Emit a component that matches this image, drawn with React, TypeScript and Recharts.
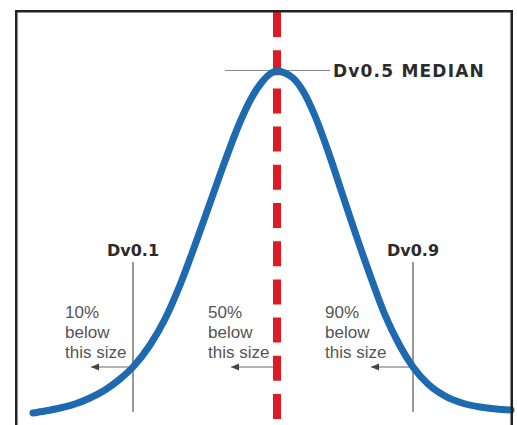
import { LineChart, Line, XAxis, YAxis, ReferenceLine } from "recharts"

// particle size (x) against frequency
const sizes = [33, 45, 60, 75, 90, 105, 120, 133, 150, 165, 180, 195, 210, 225, 240, 252, 262, 270, 277, 285, 293, 303, 315, 328, 342, 356, 370, 385, 400, 413, 428, 445, 462, 480, 496, 511]
const frequency = [12, 14, 17, 21, 27, 35, 46, 58, 80, 106, 140, 180, 222, 264, 303, 328, 343, 351, 354, 352, 347, 334, 309, 274, 232, 190, 150, 110, 79, 58, 41, 29, 22, 18, 16, 15]

const markerNames = ["Dv0.1", "Dv0.5 MEDIAN", "Dv0.9"]
const markerSizes = [133, 277, 413]
const percentBelow = ["10%", "50%", "90%"]

// annotation levels (same units as frequency)
const PEAK_LEVEL = 354.5
const ARROW_LEVEL = 58
const GUIDE_TOP = 163
const GUIDE_BOTTOM = 13
const DASH_TOP = 413
const DASH_BOTTOM = 5

const W = 517
const H = 425
const textOffsets = [-68, -69, -88]

// picture frame, drawn on the chart's own scale
const FRAME_LEFT = 16.25
const FRAME_RIGHT = 511.75
const FRAME_TOP = 413.75

const data = sizes.map((s, i) => ({ size: s, freq: frequency[i] }))

const boldFont = "DejaVu Sans, sans-serif"
const plainFont = "Liberation Sans, Arial, sans-serif"

function GuideName({ viewBox, name }: any) {
  return (
    <text x={viewBox.x} y={viewBox.y - 6} textAnchor="middle" fontFamily={boldFont} fontWeight="bold" fontSize={16} fill="#2b2b2b">
      {name}
    </text>
  )
}

function MedianName({ viewBox, name }: any) {
  return (
    <text x={viewBox.x + viewBox.width + 3} y={viewBox.y + 6.5} fontFamily={boldFont} fontWeight="bold" fontSize={17} letterSpacing={1.2} fill="#2b2b2b">
      {name}
    </text>
  )
}

function ArrowNote({ viewBox, pct, offset }: any) {
  const { x, y, width } = viewBox
  const tx = x + width + offset
  return (
    <g>
      <polygon points={`${x},${y} ${x + 8},${y - 3.5} ${x + 8},${y + 3.5}`} fill="#444" />
      <text x={tx} y={y - 49} fontFamily={plainFont} fontSize={17} fill="#555">{pct}</text>
      <text x={tx} y={y - 29} fontFamily={plainFont} fontSize={17} fill="#555">below</text>
      <text x={tx} y={y - 9} fontFamily={plainFont} fontSize={17} fill="#555">this size</text>
    </g>
  )
}

export default function App() {
  return (
    <div style={{ position: "absolute", left: 0, top: 0, width: W, height: H, background: "#fff", overflow: "hidden" }}>
      <LineChart width={W} height={H} data={data} margin={{ top: 0, right: 0, bottom: 0, left: 0 }}>
        <XAxis dataKey="size" type="number" domain={[0, W]} hide />
        <YAxis type="number" domain={[0, H]} hide />
        <ReferenceLine
          segment={[{ x: markerSizes[1], y: DASH_TOP }, { x: markerSizes[1], y: DASH_BOTTOM }]}
          stroke="#df1a22"
          strokeWidth={8}
          strokeDasharray="25 13.2"
        />
        <ReferenceLine
          segment={[{ x: markerSizes[1] - 52, y: PEAK_LEVEL }, { x: markerSizes[1] + 53, y: PEAK_LEVEL }]}
          stroke="#888"
          strokeWidth={1.2}
          label={(p: any) => <MedianName {...p} name={markerNames[1]} />}
        />
        {[0, 2].map((i) => (
          <ReferenceLine
            key={`guide-${i}`}
            segment={[{ x: markerSizes[i], y: GUIDE_TOP }, { x: markerSizes[i], y: GUIDE_BOTTOM }]}
            stroke="#555"
            strokeWidth={1.2}
            label={(p: any) => <GuideName {...p} name={markerNames[i]} />}
          />
        ))}
        {markerSizes.map((s, i) => {
          const start = i === 1 ? s - 4 : s
          return (
            <ReferenceLine
              key={`arrow-${i}`}
              segment={[{ x: start, y: ARROW_LEVEL }, { x: start - 42, y: ARROW_LEVEL }]}
              stroke="#666"
              strokeWidth={1}
              label={(p: any) => <ArrowNote {...p} pct={percentBelow[i]} offset={textOffsets[i] - (start - s)} />}
            />
          )
        })}
        <Line
          dataKey="freq"
          type="monotone"
          stroke="#1d6ab1"
          strokeWidth={7}
          strokeLinecap="round"
          dot={false}
          activeDot={false}
          isAnimationActive={false}
        />
        <ReferenceLine segment={[{ x: FRAME_LEFT, y: 0 }, { x: FRAME_LEFT, y: FRAME_TOP + 1.25 }]} stroke="#222" strokeWidth={2.5} />
        <ReferenceLine segment={[{ x: FRAME_LEFT - 1.25, y: FRAME_TOP }, { x: FRAME_RIGHT + 1.25, y: FRAME_TOP }]} stroke="#222" strokeWidth={2.5} />
        <ReferenceLine segment={[{ x: FRAME_RIGHT, y: 0 }, { x: FRAME_RIGHT, y: FRAME_TOP + 1.25 }]} stroke="#222" strokeWidth={2.5} />
      </LineChart>
    </div>
  )
}
